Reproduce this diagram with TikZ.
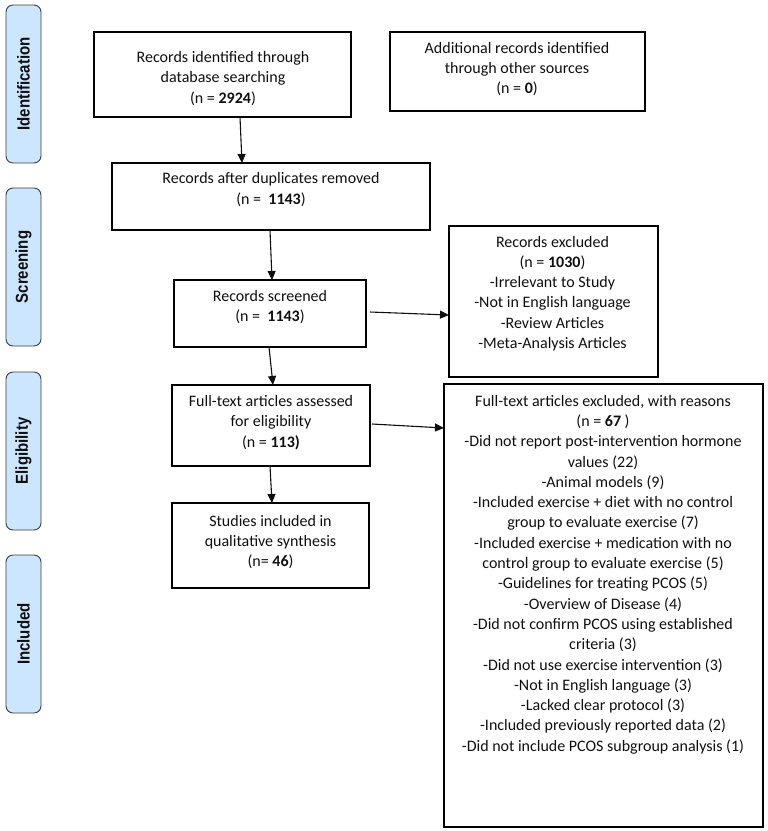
\documentclass[tikz,border=0pt]{standalone}
\usepackage{fontspec}
\setmainfont{Carlito}
\newfontfamily\labelfont{Liberation Sans}
\usetikzlibrary{arrows.meta}
\definecolor{phase}{RGB}{204,230,255}
\definecolor{phaseline}{RGB}{60,60,60}
\definecolor{ink}{RGB}{15,15,15}
\newcommand{\tallphase}[1]{\scalebox{1}[1.15]{#1}}
\begin{document}
\begin{tikzpicture}[x=1pt,y=-1pt,
  box/.style={draw=black,line width=1.3pt,inner sep=0pt,outer sep=0pt,anchor=north west},
  txt/.style={align=center,font=\fontsize{16}{20.3}\selectfont,inner sep=0pt,text=ink},
  phasebox/.style={draw=phaseline,fill=phase,rounded corners=7pt,line width=0.9pt,
    minimum width=35pt,minimum height=158pt,anchor=north west,inner sep=0pt,outer sep=0pt},
  phasetxt/.style={rotate=90,inner sep=0pt,text=ink,font=\labelfont\bfseries\fontsize{15}{18}\selectfont},
  arr/.style={line width=1.1pt,draw=ink,-{Triangle[length=9pt,width=8pt]}}]
\useasboundingbox (0,0) rectangle (768,831);

% phase labels
\node[phasebox] (pid) at (6,5) {};
\node[phasetxt] (pidt) at (pid.center) {\tallphase{Identification}};
\node[phasebox] (psc) at (6,188) {};
\node[phasetxt] (psct) at (psc.center) {\tallphase{Screening}};
\node[phasebox] (pel) at (6,372) {};
\node[phasetxt] (pelt) at (pel.center) {\tallphase{Eligibility}};
\node[phasebox] (pin) at (6,555) {};
\node[phasetxt] (pint) at (pin.center) {\tallphase{Included}};

% boxes
\node[box,minimum width=257pt,minimum height=85pt] (idb) at (94,32) {};
\node[txt] (idbt) at (223,78.5) {Records identified through\\database searching\\(n = \textbf{2924})};

\node[box,minimum width=255pt,minimum height=79pt] (add) at (390,32) {};
\node[txt] (addt) at (517,69) {Additional records identified\\through other sources\\(n = \textbf{0})};

\node[box,minimum width=318pt,minimum height=67pt] (dup) at (112,163) {};
\node[txt] (dupt) at (271,189.5) {Records after duplicates removed\\(n = \ \textbf{1143})};

\node[box,minimum width=192pt,minimum height=67pt] (scr) at (174,280) {};
\node[txt] (scrt) at (270,307) {Records screened\\(n = \ \textbf{1143})};

\node[box,minimum width=209pt,minimum height=151pt] (exc) at (449,226) {};
\node[txt] (exct) at (552.5,293.5) {Records excluded\\(n = \textbf{1030})\\-Irrelevant to Study\\-Not in English language\\-Review Articles\\-Meta-Analysis Articles};

\node[box,minimum width=198pt,minimum height=81pt] (ft) at (172,385) {};
\node[txt] (ftt) at (271,422.5) {Full-text articles assessed\\for eligibility\\(n = \textbf{113)}};

\node[box,minimum width=197pt,minimum height=85pt] (stu) at (172,503) {};
\node[txt] (stut) at (270.5,542) {Studies included in\\qualitative synthesis\\(n= \textbf{46})};

\node[box,minimum width=319pt,minimum height=443pt] (ftx) at (444,384) {};
\node[txt] (ftxt) at (603,574.5) {Full-text articles excluded, with reasons\\(n = \textbf{67} )\\-Did not report post-intervention hormone\\values (22)\\-Animal models (9)\\-Included exercise + diet with no control\\group to evaluate exercise (7)\\-Included exercise + medication with no\\control group to evaluate exercise (5)\\-Guidelines for treating PCOS (5)\\-Overview of Disease (4)\\-Did not confirm PCOS using established\\criteria (3)\\-Did not use exercise intervention (3)\\-Not in English language (3)\\-Lacked clear protocol (3)\\-Included previously reported data (2)\\-Did not include PCOS subgroup analysis (1)};

% connectors
\draw[arr] ([xshift=17.5pt]idb.south) -- ([xshift=-29pt]dup.north);
\draw[arr] ([xshift=-1pt]dup.south) -- ([xshift=2pt]scr.north);
\draw[arr] ([xshift=4pt,yshift=1.5pt]scr.east) -- ([yshift=-13.5pt]exc.west);
\draw[arr] ([xshift=-1pt]scr.south) -- ([xshift=2pt]ft.north);
\draw[arr] ([xshift=2pt,yshift=1.5pt]ft.east) -- ([yshift=177.5pt]ftx.west);
\draw[arr] ([xshift=-1pt]ft.south) -- ([xshift=1.5pt]stu.north);
\end{tikzpicture}
\end{document}
